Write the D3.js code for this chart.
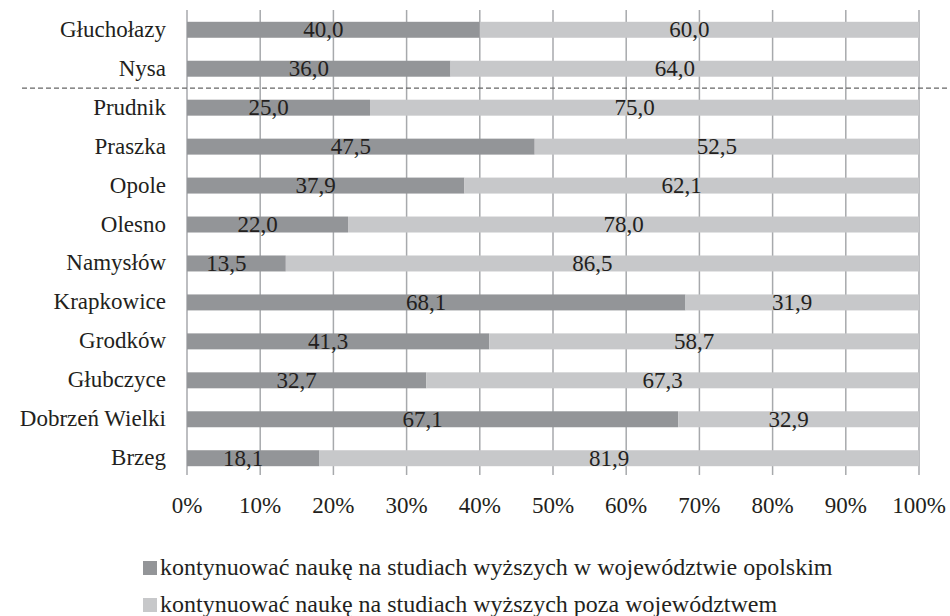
<!DOCTYPE html>
<html>
<head>
<meta charset="utf-8">
<script src="https://cdn.jsdelivr.net/npm/d3@7"></script>
<style>
  body { margin: 0; background: #fff; }
  text { font-family: "Liberation Serif", "Times New Roman", serif; fill: #231f20; }
</style>
</head>
<body>
<svg></svg>
<script>
var width = 950, height = 616;

// data (top to bottom)
var towns = ["Głuchołazy", "Nysa", "Prudnik", "Praszka", "Opole", "Olesno", "Namysłów",
             "Krapkowice", "Grodków", "Głubczyce", "Dobrzeń Wielki", "Brzeg"];
var inRegion  = [40.0, 36.0, 25.0, 47.5, 37.9, 22.0, 13.5, 68.1, 41.3, 32.7, 67.1, 18.1];
var outRegion = [60.0, 64.0, 75.0, 52.5, 62.1, 78.0, 86.5, 31.9, 58.7, 67.3, 32.9, 81.9];
var seriesNames = ["kontynuować naukę na studiach wyższych w województwie opolskim",
                   "kontynuować naukę na studiach wyższych poza województwem"];
var colors = ["#939598", "#c7c8ca"];
var xTicks = [0, 10, 20, 30, 40, 50, 60, 70, 80, 90, 100];

var svg = d3.select("svg").attr("width", width).attr("height", height);

var x = d3.scaleLinear().domain([0, 100]).range([187, 919]);
var y = d3.scaleBand().domain(towns).range([10.5, 477.5]).paddingInner(0.59).paddingOuter(0.29);

var fmt = function(v) { return v.toFixed(1).replace(".", ","); };
var labelShift = -10; // value labels sit a bit left of segment centre

// grid
svg.append("g")
  .selectAll("line")
  .data(xTicks).enter()
  .append("line")
    .attr("x1", function(d) { return x(d); })
    .attr("x2", function(d) { return x(d); })
    .attr("y1", 10)
    .attr("y2", 475)
    .attr("stroke", "#a7a9ac")
    .attr("stroke-width", 1.5);

var rows = towns.map(function(t, i) {
  return { town: t, a: inRegion[i], b: outRegion[i] };
});

var row = svg.append("g").selectAll("g")
  .data(rows).enter()
  .append("g")
    .attr("transform", function(d) { return "translate(0," + y(d.town) + ")"; });

row.append("rect")
    .attr("x", x(0))
    .attr("width", function(d) { return x(d.a) - x(0); })
    .attr("height", y.bandwidth())
    .attr("fill", colors[0]);

row.append("rect")
    .attr("x", function(d) { return x(d.a); })
    .attr("width", function(d) { return x(d.a + d.b) - x(d.a); })
    .attr("height", y.bandwidth())
    .attr("fill", colors[1]);

row.append("text")
    .attr("x", function(d) { return x(d.a / 2) + labelShift; })
    .attr("y", y.bandwidth() / 2 + 7.5)
    .attr("text-anchor", "middle")
    .style("font-size", "23px")
    .text(function(d) { return fmt(d.a); });

row.append("text")
    .attr("x", function(d) { return x(d.a + d.b / 2) + labelShift; })
    .attr("y", y.bandwidth() / 2 + 7.5)
    .attr("text-anchor", "middle")
    .style("font-size", "23px")
    .text(function(d) { return fmt(d.b); });

// category labels
row.append("text")
    .attr("x", 166)
    .attr("y", y.bandwidth() / 2 + 7)
    .attr("text-anchor", "end")
    .style("font-size", "23px")
    .text(function(d) { return d.town; });

// separator between Nysa and Prudnik
var sepY = (y("Nysa") + y.bandwidth() + y("Prudnik")) / 2;
svg.append("line")
    .attr("x1", 22).attr("x2", width)
    .attr("y1", sepY).attr("y2", sepY)
    .attr("stroke", "#666")
    .attr("stroke-width", 1.2)
    .attr("stroke-dasharray", "5,3");

// x axis labels
svg.append("g")
  .selectAll("text")
  .data(xTicks).enter()
  .append("text")
    .attr("x", function(d) { return x(d); })
    .attr("y", 512.5)
    .attr("text-anchor", "middle")
    .style("font-size", "23px")
    .text(function(d) { return d + "%"; });

// legend
var legend = svg.append("g").selectAll("g")
  .data(seriesNames).enter()
  .append("g")
    .attr("transform", function(d, i) { return "translate(143," + (561 + i * 37) + ")"; });

legend.append("rect")
    .attr("width", 14).attr("height", 14)
    .attr("fill", function(d, i) { return colors[i]; });

legend.append("text")
    .attr("x", 17)
    .attr("y", 13.5)
    .style("font-size", "24px")
    .text(function(d) { return d; });
</script>
</body>
</html>
